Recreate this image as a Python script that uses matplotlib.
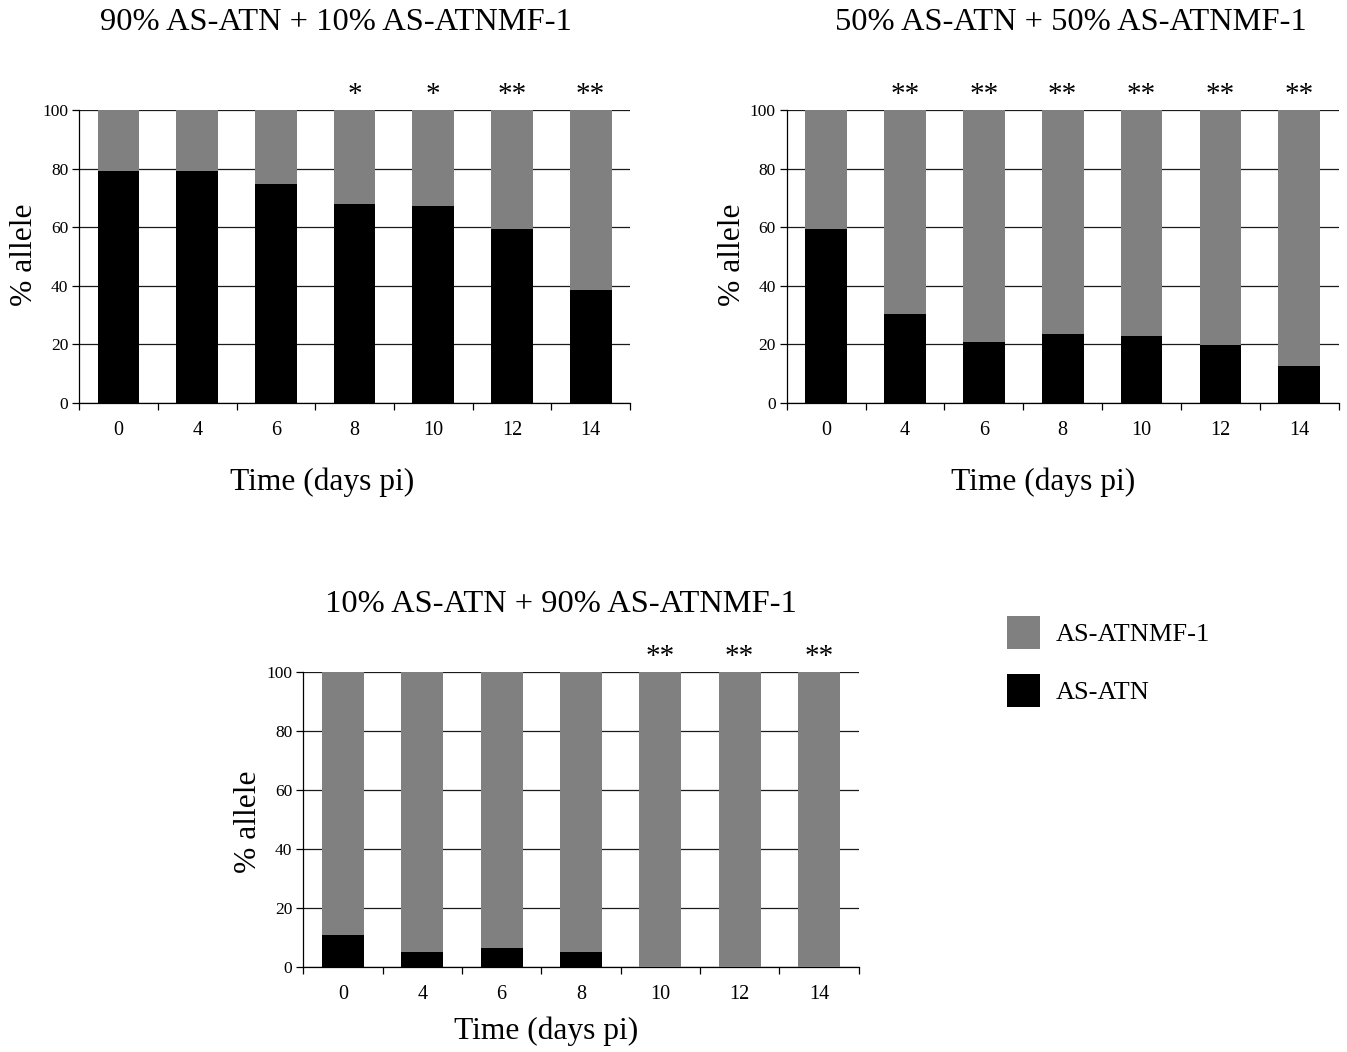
import matplotlib.pyplot as plt
from matplotlib.patches import Patch
import numpy as np

plt.rcParams['font.family'] = ['Liberation Serif', 'DejaVu Serif']

days = ['0', '4', '6', '8', '10', '12', '14']

# % AS-ATN allele per time point (AS-ATNMF-1 is the remainder to 100)
atn_90_10 = [79.3, 79.3, 74.8, 68.0, 67.3, 59.4, 38.6]
atn_50_50 = [59.4, 30.5, 20.9, 23.6, 23.0, 19.7, 12.5]
atn_10_90 = [11.1, 5.3, 6.7, 5.3, 0.0, 0.0, 0.0]

stars_90_10 = ['', '', '', '*', '*', '**', '**']
stars_50_50 = ['', '**', '**', '**', '**', '**', '**']
stars_10_90 = ['', '', '', '', '**', '**', '**']

titles = ['90% AS-ATN + 10% AS-ATNMF-1',
          '50% AS-ATN + 50% AS-ATNMF-1',
          '10% AS-ATN + 90% AS-ATNMF-1']

GRAY = '#808080'
W, H = 1347, 1052


def px(x, y):
    return x / W, 1 - y / H


def draw_panel(ax, atn, stars):
    atn = np.array(atn)
    mf = 100 - atn
    x = np.arange(len(days))
    ax.bar(x, atn, width=0.53, color='black', zorder=3)
    ax.bar(x, mf, width=0.53, bottom=atn, color=GRAY, zorder=3)
    ax.set_xlim(-0.5, len(days) - 0.5)
    ax.set_ylim(0, 100)
    ax.set_yticks([0, 20, 40, 60, 80, 100])
    ax.yaxis.grid(True, color='#1a1a1a', linewidth=0.9)
    ax.set_axisbelow(True)
    ax.set_xticks(x)
    ax.set_xticklabels(days)
    ax.set_xticks(np.arange(-0.5, len(days)), minor=True)
    ax.tick_params(axis='x', which='major', length=0, labelsize=14.5, pad=13)
    ax.tick_params(axis='x', which='minor', length=5, width=0.9, direction='out')
    ax.tick_params(axis='y', length=5, width=0.9, labelsize=12.5, pad=3)
    for s in ['top', 'right']:
        ax.spines[s].set_visible(False)
    for s in ['left', 'bottom']:
        ax.spines[s].set_linewidth(0.9)
    for i, st in enumerate(stars):
        if st:
            ax.text(i, 100.8, st, ha='center', va='bottom', fontsize=21, clip_on=False)


fig = plt.figure(figsize=(W / 100, H / 100), dpi=100)

ax1 = fig.add_axes([79.3 / W, 1 - 403 / H, (630 - 79.3) / W, 293 / H])
ax2 = fig.add_axes([786.7 / W, 1 - 403 / H, (1338.7 - 786.7) / W, 293 / H])
ax3 = fig.add_axes([303.3 / W, 1 - 967.3 / H, (858.7 - 303.3) / W, 295 / H])

draw_panel(ax1, atn_90_10, stars_90_10)
draw_panel(ax2, atn_50_50, stars_50_50)
draw_panel(ax3, atn_10_90, stars_10_90)

# titles
fig.text(*px(336, 23), titles[0], ha='center', va='center', fontsize=23.4)
fig.text(*px(1071, 23), titles[1], ha='center', va='center', fontsize=23.4)
fig.text(*px(561, 605), titles[2], ha='center', va='center', fontsize=23.4)

# axis labels
for (lx, ly) in [(322, 482), (1043, 482), (546, 1031)]:
    fig.text(*px(lx, ly), 'Time (days pi)', ha='center', va='center', fontsize=22.7)
for (lx, ly) in [(25, 255), (733, 255), (248, 822)]:
    fig.text(*px(lx, ly), '% allele', ha='center', va='center', rotation=90, fontsize=22.7)

handles = [Patch(facecolor=GRAY, label='AS-ATNMF-1'),
           Patch(facecolor='black', label='AS-ATN')]
fig.legend(handles=handles, loc='upper left', bbox_to_anchor=px(1007, 616),
           frameon=False, fontsize=19, handlelength=1.25, handleheight=1.55,
           handletextpad=0.6, labelspacing=0.95, borderpad=0, borderaxespad=0)

fig.savefig('out.png', dpi=100)
